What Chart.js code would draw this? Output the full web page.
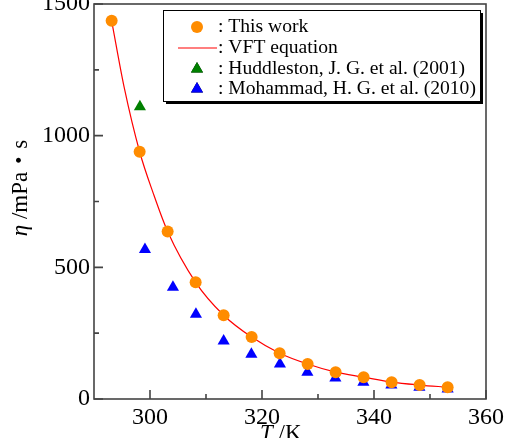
<!DOCTYPE html>
<html lang="en">

<head>
  <meta charset="UTF-8">
  <title>Viscosity</title>
  <script src="https://cdn.jsdelivr.net/npm/chart.js@4.4.0/dist/chart.umd.min.js"></script>
  <style>
    body { margin: 0; overflow: hidden; background: #fff; }
    .wrap { position: absolute; left: 0; top: -16px; width: 508px; height: 470px; }
  </style>
</head>

<body>
  <div class="wrap"><canvas id="c"></canvas></div>
</body>

<script>
  // this work
  const workT = [293.15, 298.15, 303.15, 308.15, 313.15, 318.15, 323.15, 328.15, 333.15, 338.15, 343.15, 348.15, 353.15];
  const workEta = [1436, 939, 636, 443, 318, 235, 174, 133, 102, 83, 64, 53, 45];
  // VFT curve
  const vftT = [293.15, 295.4, 298.15, 300.6, 303.15, 308.15, 313.15, 318.15, 323.15, 328.15, 333.15, 338.15, 343.15, 348.15, 353.15];
  const vftEta = [1436, 1182, 939, 780, 636, 443, 318, 235, 174, 133, 102, 83, 64, 53, 45];
  // Huddleston 2001
  const hudT = [298.2];
  const hudEta = [1110];
  // Mohammad 2010
  const mohT = [299.1, 304.1, 308.2, 313.15, 318.1, 323.2, 328.1, 333.1, 338.1, 343.1, 348.1, 353.15];
  const mohEta = [568, 424, 322, 220, 170, 133, 102, 80, 64, 53, 45, 38];

  const xTicks = [300, 320, 340, 360];
  const yTicks = [0, 500, 1000, 1500];
  const xMinor = [310, 330, 350];
  const yMinor = [250, 750, 1250];

  const serif = '"Liberation Serif", "DejaVu Serif", serif';
  const zip = (xs, ys) => xs.map((x, i) => ({ x: x, y: ys[i] }));

  // frame, inward ticks, axis titles, boxed legend
  const decor = {
    id: 'decor',
    afterDraw(chart) {
      const ctx = chart.ctx;
      const a = chart.chartArea;
      const xs = chart.scales.x, ys = chart.scales.y;
      ctx.save();
      ctx.strokeStyle = '#444';
      ctx.lineWidth = 1.6;
      ctx.strokeRect(a.left, a.top, a.right - a.left, a.bottom - a.top);
      ctx.beginPath();
      for (const v of xTicks) {
        const p = xs.getPixelForValue(v);
        ctx.moveTo(p, a.bottom); ctx.lineTo(p, a.bottom - 9);
      }
      for (const v of xMinor) {
        const p = xs.getPixelForValue(v);
        ctx.moveTo(p, a.bottom); ctx.lineTo(p, a.bottom - 5);
      }
      for (const v of yTicks) {
        const p = ys.getPixelForValue(v);
        ctx.moveTo(a.left, p); ctx.lineTo(a.left + 9, p);
      }
      for (const v of yMinor) {
        const p = ys.getPixelForValue(v);
        ctx.moveTo(a.left, p); ctx.lineTo(a.left + 5, p);
      }
      ctx.stroke();

      // axis titles
      ctx.fillStyle = '#000';
      ctx.textBaseline = 'middle';
      const it = 'italic 23px ' + serif, rm = '23px ' + serif;
      ctx.font = it; const wT = ctx.measureText('T').width;
      let x0 = 260, y0 = 450;
      ctx.font = it; ctx.textAlign = 'left'; ctx.fillText('T', x0, y0);
      ctx.font = rm; ctx.fillText(' /K', x0 + wT, y0);

      ctx.translate(21, 204);
      ctx.rotate(-Math.PI / 2);
      const unit = ' /mPa\u30fbs';
      const rmU = '23px ' + serif + ', "Noto Sans CJK JP"';
      ctx.font = it; const wE = ctx.measureText('η').width;
      ctx.font = rmU; const wU = ctx.measureText(unit).width;
      x0 = -(wE + wU) / 2;
      ctx.font = it; ctx.fillText('η', x0, 0);
      ctx.font = rmU; ctx.fillText(unit, x0 + wE, 0);
      ctx.restore();

      // legend box with shadow
      ctx.save();
      const L = 163, T = 26, W = 317, H = 91;
      ctx.fillStyle = '#000';
      ctx.fillRect(L + 3, T + 3, W, H);
      ctx.fillStyle = '#fff';
      ctx.fillRect(L, T, W, H);
      ctx.strokeStyle = '#000';
      ctx.lineWidth = 1;
      ctx.strokeRect(L + 0.5, T + 0.5, W, H);
      ctx.font = '19.6px ' + serif;
      ctx.textBaseline = 'middle';
      ctx.textAlign = 'left';
      const rows = [43, 64, 85, 105];
      chart.data.datasets.forEach((ds, r) => {
        const y = rows[r];
        if (ds.showLine) {
          ctx.strokeStyle = ds.borderColor;
          ctx.lineWidth = 1.2;
          ctx.beginPath(); ctx.moveTo(178, y); ctx.lineTo(217, y); ctx.stroke();
        } else {
          Chart.helpers.drawPoint(ctx, {
            pointStyle: ds.pointStyle, radius: ds.pointRadius, borderWidth: 0, rotation: 0
          }, 197, y);
          ctx.fillStyle = ds.backgroundColor;
          ctx.fill();
        }
        ctx.fillStyle = '#000';
        ctx.fillText(': ' + ds.label, 218, y);
      });
      ctx.restore();
    }
  };

  new Chart(document.getElementById('c'), {
    type: 'scatter',
    data: {
      datasets: [
        {
          label: 'This work', data: zip(workT, workEta), pointStyle: 'circle',
          pointRadius: 6, backgroundColor: '#ff8c00', borderWidth: 0, order: 1
        },
        {
          label: 'VFT equation', data: zip(vftT, vftEta), showLine: true,
          cubicInterpolationMode: 'monotone', pointRadius: 0, borderColor: '#ff0000',
          borderWidth: 1.2, order: 3
        },
        {
          label: 'Huddleston, J. G. et al. (2001)', data: zip(hudT, hudEta), pointStyle: 'triangle',
          pointRadius: 7, backgroundColor: '#008000', borderWidth: 0, order: 2
        },
        {
          label: 'Mohammad, H. G. et al. (2010)', data: zip(mohT, mohEta), pointStyle: 'triangle',
          pointRadius: 7, backgroundColor: '#0000ff', borderWidth: 0, order: 2
        }
      ]
    },
    options: {
      responsive: true,
      maintainAspectRatio: false,
      animation: false,
      layout: { padding: { top: 20, right: 22, left: 0, bottom: 0 } },
      plugins: { legend: { display: false }, tooltip: { enabled: false } },
      scales: {
        x: {
          type: 'linear', min: 290, max: 360,
          grid: { display: false }, border: { display: false },
          afterBuildTicks: s => { s.ticks = xTicks.map(v => ({ value: v })); },
          afterFit: s => { s.height = 55; },
          ticks: { padding: -4, color: '#000', font: { family: serif, size: 24 }, callback: v => String(v) }
        },
        y: {
          min: 0, max: 1500,
          grid: { display: false }, border: { display: false },
          afterBuildTicks: s => { s.ticks = yTicks.map(v => ({ value: v })); },
          afterFit: s => { s.width = 94; },
          ticks: { padding: -4, color: '#000', font: { family: serif, size: 24 }, callback: v => String(v) }
        }
      }
    },
    plugins: [decor]
  });
</script>

</html>
